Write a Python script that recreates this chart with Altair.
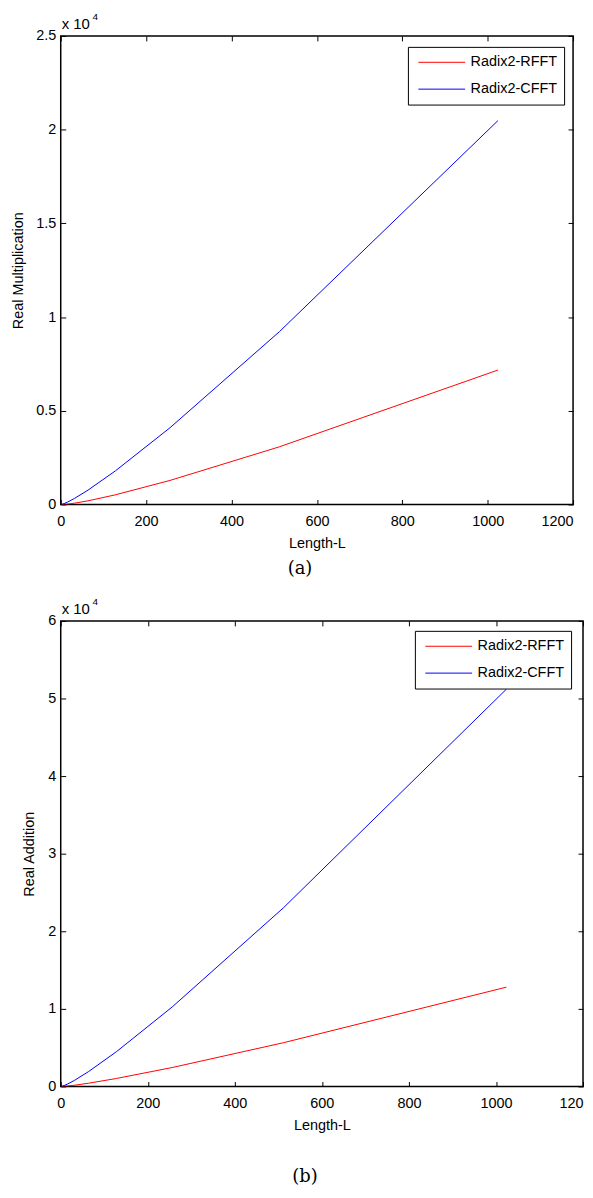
import altair as alt
import pandas as pd

# FFT lengths and operation counts
lengths = [2, 4, 8, 16, 32, 64, 128, 256, 512, 1024]
mult_rfft = [0, 0, 4, 20, 68, 196, 516, 1284, 3076, 7172]
mult_cfft = [4, 16, 48, 128, 320, 768, 1792, 4096, 9216, 20480]
add_rfft = [2, 6, 20, 60, 160, 420, 1030, 2440, 5640, 12800]
add_cfft = [10, 40, 120, 320, 800, 1920, 4480, 10240, 23040, 51200]

series_names = ["Radix2-RFFT", "Radix2-CFFT"]
series_colors = ["#ff0000", "#0000ff"]

x_ticks = [0, 200, 400, 600, 800, 1000, 1200]
y_ticks_a = [0, 5000, 10000, 15000, 20000, 25000]
y_ticks_b = [0, 10000, 20000, 30000, 40000, 50000, 60000]

FONT = "Liberation Sans"
INWARD = alt.ExprRef(expr="-5")
LAST_RIGHT = {"condition": {"test": "datum.value == 1200", "value": "right"},
              "value": "center"}


def panel(rfft, cfft, yticks, ymax, ytitle, caption, w, h, ytitle_x,
          legend_x, legend_y, caption_offset, xlabel_expr):
    df = pd.DataFrame({
        "L": lengths + lengths,
        "v": rfft + cfft,
        "s": [series_names[0]] * len(lengths) + [series_names[1]] * len(lengths),
    })
    xs = alt.Scale(domain=[0, 1200], nice=False, zero=False)
    ys = alt.Scale(domain=[0, ymax], nice=False)

    lines = alt.Chart(df).mark_line(strokeWidth=1, clip=True).encode(
        x=alt.X("L:Q", scale=xs, axis=alt.Axis(
            orient="bottom", values=x_ticks, title="Length-L",
            labelExpr=xlabel_expr, labelFlush=False, labelAlign=LAST_RIGHT,
            tickSize=INWARD, labelPadding=15, titlePadding=9)),
        y=alt.Y("v:Q", scale=ys, axis=alt.Axis(
            orient="left", values=yticks, title=ytitle,
            labelExpr="'' + (datum.value / 10000)", tickSize=INWARD,
            labelPadding=10, titleX=ytitle_x, titleBaseline="middle")),
        color=alt.Color("s:N", sort=series_names,
                        scale=alt.Scale(domain=series_names, range=series_colors),
                        legend=alt.Legend(
                            orient="none", legendX=legend_x, legendY=legend_y,
                            title=None, strokeColor="black", fillColor="white",
                            padding=6, symbolType="stroke", symbolSize=2209,
                            symbolStrokeWidth=1, symbolOffset=4,
                            labelFontSize=14.5, labelFont=FONT, labelColor="black",
                            labelOffset=5, clipHeight=19, rowPadding=8)),
        order=alt.Order("L:Q"),
    )

    frame = alt.Chart(df).mark_point(opacity=0).encode(
        x=alt.X("L:Q", scale=xs, axis=alt.Axis(
            orient="top", values=x_ticks, labels=False, title=None,
            tickSize=INWARD)),
        y=alt.Y("v:Q", scale=ys, axis=alt.Axis(
            orient="right", values=yticks, labels=False, title=None,
            tickSize=INWARD)),
    )

    exp_df = pd.DataFrame({"t": ["x 10"], "e": ["4"]})
    exp_base = alt.Chart(exp_df).mark_text(
        align="left", baseline="alphabetic", font=FONT, fontSize=15, color="black"
    ).encode(x=alt.value(1), y=alt.value(-7), text="t:N")
    exp_sup = alt.Chart(exp_df).mark_text(
        align="left", baseline="alphabetic", font=FONT, fontSize=10, color="black"
    ).encode(x=alt.value(32), y=alt.value(-16), text="e:N")

    return alt.layer(lines, frame, exp_base, exp_sup).resolve_axis(
        x="independent", y="independent"
    ).properties(
        width=w, height=h,
        title=alt.TitleParams(caption, orient="bottom", font="DejaVu Serif",
                              fontSize=18, fontWeight="normal", color="black",
                              dx=-17, offset=caption_offset),
    )


top = panel(mult_rfft, mult_cfft, y_ticks_a, 25000, "Real Multiplication", "(a)",
            515, 471, -42, 349, 11, 10, "datum.label")
bottom = panel(add_rfft, add_cfft, y_ticks_b, 60000, "Real Addition", "(b)",
               525, 468, -31, 356, 10, 36,
               "datum.value == 1200 ? '120' : datum.label")

chart = alt.vconcat(top, bottom, spacing=17).resolve_scale(
    color="independent"
).resolve_legend(
    color="independent"
).properties(
    padding={"left": 2, "top": 0, "right": 0, "bottom": 0},
    background="white",
).configure_view(
    stroke="black", strokeWidth=1.5
).configure_axis(
    domain=False, grid=False, tickColor="black", tickWidth=1,
    labelColor="black", labelFont=FONT, labelFontSize=14.5, format="d",
    titleColor="black", titleFont=FONT, titleFontSize=14.5,
    titleFontWeight="normal",
)

chart.save("out.html", embed_options={"renderer": "svg", "actions": False})
